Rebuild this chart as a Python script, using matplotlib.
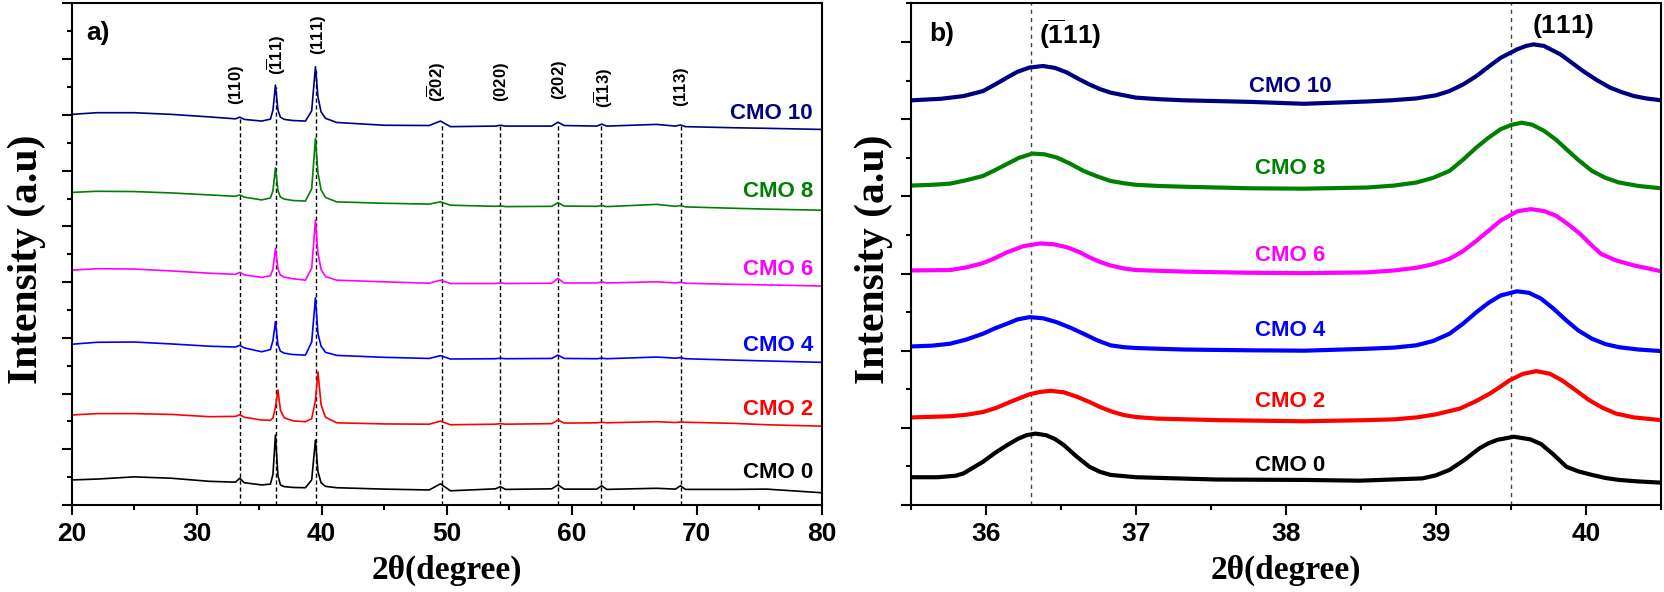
import matplotlib
matplotlib.use("Agg")
import matplotlib.pyplot as plt
from matplotlib.ticker import MultipleLocator

plt.rcParams['font.family'] = ['Liberation Sans', 'DejaVu Sans']
plt.rcParams['mathtext.fontset'] = 'custom'
plt.rcParams['mathtext.rm'] = 'Liberation Sans'
plt.rcParams['mathtext.bf'] = 'Liberation Sans:bold'

labels = ['CMO 0', 'CMO 2', 'CMO 4', 'CMO 6', 'CMO 8', 'CMO 10']
colors = ['black', '#FF0000', '#0000FF', '#FF00FF', '#008000', '#000080']

# ---- panel a: full patterns (offset, arbitrary units) ----
xa = [20, 22, 25, 28, 31, 33.1, 33.45, 33.8, 35.2, 35.9, 36.1, 36.3, 36.5, 36.7, 37.0,
      37.7, 38.7, 39.2, 39.5, 39.7, 39.95, 40.3, 41.2, 45, 48.6, 49.5, 50.3, 53.9, 54.3,
      54.7, 58.4, 58.9, 59.4, 62.0, 62.4, 62.8, 66.8, 68.3, 68.7, 69.1, 73, 75.6, 80]

cmo0_a = [0.90, 0.93, 1.01, 0.96, 0.85, 0.82, 0.96, 0.80, 0.72, 0.75, 1.10, 2.51, 1.05, 0.72, 0.66,
          0.63, 0.62, 0.90, 2.33, 1.20, 0.80, 0.67, 0.62, 0.57, 0.54, 0.76, 0.51, 0.58, 0.66,
          0.56, 0.58, 0.72, 0.57, 0.57, 0.69, 0.56, 0.60, 0.57, 0.69, 0.56, 0.56, 0.57, 0.44]
cmo2_a = [3.23, 3.28, 3.28, 3.25, 3.17, 3.18, 3.24, 3.15, 3.05, 3.04, 3.12, 3.50, 4.13, 3.40, 3.13,
          3.02, 2.99, 3.10, 3.75, 4.78, 3.60, 3.15, 2.95, 2.91, 2.90, 3.01, 2.88, 2.90, 2.92,
          2.90, 2.92, 3.05, 2.94, 2.95, 2.97, 2.95, 2.99, 2.96, 2.98, 2.97, 2.93, 2.88, 2.83]
cmo4_a = [5.77, 5.84, 5.85, 5.78, 5.70, 5.67, 5.73, 5.64, 5.50, 5.58, 5.90, 6.58, 5.75, 5.52, 5.45,
          5.40, 5.38, 5.85, 7.44, 6.15, 5.70, 5.48, 5.37, 5.30, 5.26, 5.36, 5.24, 5.25, 5.27,
          5.25, 5.26, 5.38, 5.26, 5.25, 5.27, 5.25, 5.31, 5.27, 5.29, 5.25, 5.20, 5.17, 5.12]
cmo6_a = [8.43, 8.48, 8.47, 8.40, 8.32, 8.28, 8.35, 8.26, 8.17, 8.23, 8.47, 9.21, 8.47, 8.25, 8.18,
          8.12, 8.07, 8.50, 10.23, 9.04, 8.46, 8.20, 8.07, 8.01, 7.96, 8.07, 7.95, 7.95, 7.97,
          7.95, 7.96, 8.13, 7.97, 7.97, 8.01, 7.97, 8.01, 7.97, 8.00, 7.96, 7.92, 7.90, 7.86]
cmo8_a = [11.22, 11.26, 11.25, 11.20, 11.13, 11.08, 11.13, 11.05, 10.95, 11.02, 11.28, 12.10, 11.28, 11.05, 10.98,
          10.93, 10.91, 11.35, 13.16, 11.92, 11.31, 11.04, 10.88, 10.83, 10.80, 10.88, 10.76, 10.72, 10.74,
          10.71, 10.72, 10.85, 10.73, 10.72, 10.75, 10.71, 10.79, 10.72, 10.75, 10.70, 10.65, 10.62, 10.58]
cmo10_a = [14.02, 14.08, 14.08, 14.02, 13.93, 13.86, 13.92, 13.84, 13.78, 13.85, 14.17, 15.07, 14.17, 13.92, 13.84,
           13.80, 13.78, 14.15, 15.73, 14.65, 14.11, 13.88, 13.73, 13.63, 13.62, 13.78, 13.58, 13.60, 13.63,
           13.60, 13.60, 13.74, 13.62, 13.60, 13.67, 13.60, 13.66, 13.60, 13.64, 13.58, 13.54, 13.52, 13.48]

hkl_pos = [33.5, 36.35, 39.55, 49.65, 54.26, 58.9, 62.37, 68.72]
hkl_top = [13.9, 15.0, 15.7, 13.7, 13.6, 13.7, 13.65, 13.6]
hkl_text = [r'$\mathbf{(110)}$', r'$\mathbf{(\overline{1}11)}$', r'$\mathbf{(111)}$',
            r'$\mathbf{(\overline{2}02)}$', r'$\mathbf{(020)}$', r'$\mathbf{(202)}$',
            r'$\mathbf{(\overline{1}13)}$', r'$\mathbf{(113)}$']
hkl_tx = [33.2, 36.4, 39.78, 49.2, 54.4, 59.06, 62.5, 68.8]
hkl_ty = [14.35, 15.43, 16.15, 14.46, 14.46, 14.53, 14.24, 14.28]
label_ya = [1.16, 3.43, 5.72, 8.46, 11.24, 14.05]

# ---- panel b: zoom on the two main peaks ----
x0_b = [35.5, 35.68, 35.8, 35.85, 35.98, 36.06, 36.14, 36.21, 36.27, 36.33, 36.4, 36.46, 36.52, 36.6,
        36.69, 36.76, 36.83, 37.0, 37.54, 38.12, 38.49, 38.91, 39.0, 39.09, 39.19, 39.29, 39.35, 39.41,
        39.52, 39.63, 39.7, 39.78, 39.87, 39.95, 40.04, 40.13, 40.22, 40.35, 40.5]
cmo0_b = [0.72, 0.72, 0.76, 0.82, 1.12, 1.35, 1.55, 1.71, 1.81, 1.85, 1.81, 1.71, 1.55, 1.27,
          0.99, 0.86, 0.78, 0.72, 0.66, 0.65, 0.63, 0.69, 0.77, 0.91, 1.17, 1.47, 1.60, 1.69,
          1.77, 1.70, 1.58, 1.32, 0.99, 0.87, 0.78, 0.70, 0.65, 0.61, 0.58]
x2_b = [35.5, 35.76, 35.87, 35.98, 36.07, 36.16, 36.29, 36.36, 36.43, 36.52, 36.61, 36.69, 36.76,
        36.84, 36.92, 37.0, 37.14, 37.54, 38.12, 38.54, 38.72, 38.87, 39.0, 39.16, 39.26, 39.36,
        39.43, 39.49, 39.58, 39.67, 39.76, 39.84, 39.93, 40.02, 40.11, 40.2, 40.32, 40.5]
cmo2_b = [2.27, 2.30, 2.34, 2.41, 2.52, 2.67, 2.87, 2.93, 2.96, 2.92, 2.80, 2.67, 2.54,
          2.42, 2.33, 2.28, 2.24, 2.20, 2.17, 2.20, 2.22, 2.27, 2.35, 2.50, 2.68, 2.89,
          3.07, 3.23, 3.40, 3.47, 3.40, 3.23, 2.98, 2.72, 2.52, 2.37, 2.27, 2.20]
x4_b = [35.5, 35.64, 35.76, 35.87, 35.98, 36.06, 36.14, 36.21, 36.29, 36.38, 36.47, 36.56, 36.65,
        36.74, 36.83, 36.92, 37.0, 37.15, 37.32, 37.76, 38.12, 38.54, 38.72, 38.87, 38.98, 39.09,
        39.18, 39.27, 39.35, 39.43, 39.54, 39.62, 39.70, 39.78, 39.87, 39.95, 40.04, 40.13, 40.22,
        40.35, 40.5]
cmo4_b = [4.11, 4.13, 4.18, 4.29, 4.44, 4.58, 4.70, 4.81, 4.87, 4.84, 4.74, 4.60, 4.44,
          4.27, 4.14, 4.09, 4.07, 4.05, 4.03, 4.01, 4.00, 4.05, 4.08, 4.14, 4.25, 4.44,
          4.70, 5.00, 5.24, 5.43, 5.54, 5.50, 5.35, 5.10, 4.78, 4.52, 4.31, 4.17, 4.09,
          4.03, 3.99]
x6_b = [35.5, 35.76, 35.87, 35.98, 36.06, 36.14, 36.25, 36.36, 36.45, 36.54, 36.62, 36.69, 36.76,
        36.83, 36.92, 37.0, 37.32, 37.76, 38.12, 38.54, 38.72, 38.87, 38.98, 39.09, 39.18, 39.27,
        39.35, 39.43, 39.54, 39.63, 39.72, 39.80, 39.88, 39.96, 40.03, 40.10, 40.2, 40.32, 40.5]
cmo6_b = [6.08, 6.09, 6.16, 6.27, 6.40, 6.55, 6.71, 6.78, 6.76, 6.68, 6.56, 6.42, 6.30,
          6.21, 6.13, 6.09, 6.05, 6.02, 6.01, 6.03, 6.08, 6.15, 6.24, 6.38, 6.58, 6.85,
          7.11, 7.37, 7.61, 7.67, 7.62, 7.50, 7.28, 7.03, 6.76, 6.51, 6.34, 6.21, 6.06]
x8_b = [35.5, 35.64, 35.76, 35.87, 35.98, 36.06, 36.14, 36.22, 36.31, 36.39, 36.47, 36.56, 36.65,
        36.74, 36.83, 36.92, 37.0, 37.15, 37.32, 37.76, 38.12, 38.54, 38.72, 38.87, 38.98, 39.09,
        39.18, 39.27, 39.35, 39.43, 39.5, 39.57, 39.64, 39.72, 39.8, 39.87, 39.95, 40.04, 40.13,
        40.22, 40.35, 40.5]
cmo8_b = [8.28, 8.30, 8.33, 8.42, 8.53, 8.68, 8.84, 9.00, 9.11, 9.09, 9.01, 8.85, 8.66,
          8.52, 8.40, 8.34, 8.30, 8.27, 8.25, 8.21, 8.20, 8.23, 8.28, 8.36, 8.48, 8.66,
          8.95, 9.27, 9.52, 9.74, 9.85, 9.91, 9.86, 9.70, 9.47, 9.22, 8.94, 8.66, 8.48,
          8.36, 8.27, 8.21]
x10_b = [35.5, 35.7, 35.85, 35.98, 36.06, 36.14, 36.21, 36.29, 36.38, 36.46, 36.54, 36.61, 36.69,
         36.76, 36.83, 36.92, 37.0, 37.15, 37.32, 37.76, 38.12, 38.54, 38.7, 38.87, 39.0, 39.09,
         39.18, 39.27, 39.35, 39.43, 39.54, 39.6, 39.65, 39.72, 39.83, 39.9, 39.98, 40.07, 40.16,
         40.24, 40.32, 40.4, 40.5]
cmo10_b = [10.49, 10.53, 10.60, 10.73, 10.90, 11.08, 11.23, 11.34, 11.38, 11.33, 11.21, 11.06, 10.90,
           10.78, 10.69, 10.62, 10.56, 10.52, 10.49, 10.45, 10.40, 10.46, 10.49, 10.54, 10.62, 10.73,
           10.90, 11.12, 11.36, 11.59, 11.81, 11.90, 11.94, 11.90, 11.68, 11.48, 11.25, 11.02, 10.82,
           10.70, 10.60, 10.54, 10.49]
label_yb = [1.03, 2.69, 4.53, 6.47, 8.71, 10.86]

fig = plt.figure(figsize=(16.65, 5.92), dpi=100)
axa = fig.add_axes([0.04306, 0.14696, 0.45045, 0.84713])
axb = fig.add_axes([0.54715, 0.14696, 0.45045, 0.84713])

series_a = [cmo0_a, cmo2_a, cmo4_a, cmo6_a, cmo8_a, cmo10_a]
for ys, c, lab, ly in zip(series_a, colors, labels, label_ya):
    axa.plot(xa, ys, color=c, lw=1.2)
    axa.text(79.3, ly, lab, color=c, fontsize=16, fontweight='bold', ha='right', va='center')

for xp, top in zip(hkl_pos, hkl_top):
    axa.plot([xp, xp], [0, top], color='black', lw=1.0, ls=(0, (3, 2)), zorder=0)
for tx, ty, t in zip(hkl_tx, hkl_ty, hkl_text):
    axa.text(tx, ty, t, rotation=90, ha='center', va='bottom', fontsize=12)

axa.text(21.2, 16.94, 'a)', fontsize=19, fontweight='bold', ha='left', va='center')
axa.set_xlim(20, 80)
axa.set_ylim(0, 18)
axa.xaxis.set_major_locator(MultipleLocator(10))
axa.xaxis.set_minor_locator(MultipleLocator(5))

xs_b = [x0_b, x2_b, x4_b, x6_b, x8_b, x10_b]
series_b = [cmo0_b, cmo2_b, cmo4_b, cmo6_b, cmo8_b, cmo10_b]
for xs, ys, c, lab, ly in zip(xs_b, series_b, colors, labels, label_yb):
    axb.plot(xs, ys, color=c, lw=3.0, solid_joinstyle='round')
    axb.text(38.03, ly, lab, color=c, fontsize=16, fontweight='bold', ha='center', va='center')

for xp in [36.3, 39.5]:
    axb.axvline(xp, color='#444444', lw=1.0, ls=(0, (3, 3)), zorder=0)
axb.text(36.56, 12.2, r'$\mathbf{(\overline{1}11)}$', fontsize=19, ha='center', va='center')
axb.text(39.85, 12.41, r'$\mathbf{(111)}$', fontsize=19, ha='center', va='center')
axb.text(35.62, 12.2, 'b)', fontsize=19, fontweight='bold', ha='left', va='center')
axb.set_xlim(35.5, 40.5)
axb.set_ylim(0, 13)
axb.xaxis.set_major_locator(MultipleLocator(1))
axb.xaxis.set_minor_locator(MultipleLocator(0.5))

for ax, lx in [(axa, -0.034), (axb, -0.024)]:
    ax.yaxis.set_major_locator(MultipleLocator(2))
    ax.yaxis.set_minor_locator(MultipleLocator(1))
    ax.set_yticklabels([])
    ax.tick_params(which='both', direction='out', width=1.5, top=False, right=False)
    ax.tick_params(which='major', length=7)
    ax.tick_params(which='minor', length=3.5)
    ax.tick_params(axis='x', which='major', pad=5, labelsize=19)
    for lbl in ax.get_xticklabels():
        lbl.set_fontweight('bold')
    for sp in ax.spines.values():
        sp.set_linewidth(1.5)
    ax.set_ylabel('Intensity (a.u)', family='Liberation Serif', fontweight='bold', fontsize=30)
    ax.yaxis.set_label_coords(lx, 0.49)
    ax.set_xlabel('2\u03b8(degree)', family='Liberation Serif', fontweight='bold', fontsize=24)
    ax.xaxis.set_label_coords(0.5, -0.1)

fig.savefig('out.png', dpi=100)
